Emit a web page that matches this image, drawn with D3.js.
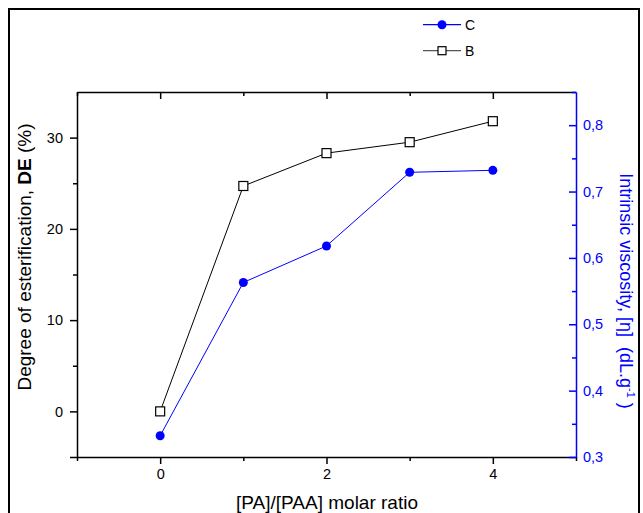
<!DOCTYPE html>
<html>
<head>
<meta charset="utf-8">
<title>DE and intrinsic viscosity</title>
<style>
  body { margin: 0; background: #fff; }
  text { font-family: Arial, "Liberation Sans", sans-serif; }
</style>
</head>
<body>
<div id="chart"></div>
<script src="https://cdn.jsdelivr.net/npm/d3@7"></script>
<script>
// data
var ratio = [0, 1, 2, 3, 4];
var deB = [0, 24.7, 28.3, 29.5, 31.8];           // left axis, DE (%)
var viscC = [0.332, 0.563, 0.618, 0.729, 0.732]; // right axis, [eta]
var xTicks = [-1, 0, 1, 2, 3, 4, 5];
var xLabels = [0, 2, 4];
var leftTicks = [-5, 0, 5, 10, 15, 20, 25, 30];
var leftLabels = [0, 10, 20, 30];
var rightTicks = [0.3, 0.35, 0.4, 0.45, 0.5, 0.55, 0.6, 0.65, 0.7, 0.75, 0.8, 0.85];
var rightLabels = [0.3, 0.4, 0.5, 0.6, 0.7, 0.8];

var W = 643, H = 513;
var blue = "#0000ff";
var svg = d3.select("#chart").append("svg").attr("width", W).attr("height", H);

// outer frame
svg.append("rect").attr("x", 9).attr("y", 9).attr("width", 630).attr("height", 530)
  .attr("fill", "none").attr("stroke", "#000").attr("stroke-width", 2);

var x = d3.scaleLinear().domain([-1, 5]).range([77, 576]);
var yL = d3.scaleLinear().domain([-5, 35]).range([457, 92]);
var yR = d3.scaleLinear().domain([0.3, 0.85]).range([457, 92]);

function isIn(arr, v) { return arr.some(function (a) { return Math.abs(a - v) < 1e-9; }); }
function styleAxis(g, color) {
  g.select(".domain").attr("stroke", color).attr("stroke-width", 1.5);
  g.selectAll(".tick line").attr("stroke", color).attr("stroke-width", 1.5);
  g.selectAll(".tick text").attr("fill", color).style("font-size", "14.5px")
    .style("font-family", "Arial, 'Liberation Sans', sans-serif");
}

// bottom axis
var gB = svg.append("g").attr("transform", "translate(0,457)")
  .call(d3.axisBottom(x).tickValues(xTicks).tickSizeOuter(0).tickPadding(6)
    .tickFormat(function (d) { return isIn(xLabels, d) ? d : ""; }));
styleAxis(gB, "#000");
gB.selectAll(".tick line").attr("y2", function (d) { return isIn(xLabels, d) ? 7 : 4; });

// top axis (ticks inward, no labels)
var gT = svg.append("g").attr("transform", "translate(0,92)")
  .call(d3.axisTop(x).tickValues(xTicks.slice(0, 6)).tickSizeOuter(0).tickFormat(""));
styleAxis(gT, "#000");
gT.selectAll(".tick line").attr("y2", function (d) { return isIn(xLabels, d) ? 7 : 4; });

// left axis
var gL = svg.append("g").attr("transform", "translate(77,0)")
  .call(d3.axisLeft(yL).tickValues(leftTicks).tickSizeOuter(0)
    .tickFormat(function (d) { return isIn(leftLabels, d) ? d : ""; }));
styleAxis(gL, "#000");
gL.selectAll(".tick line").attr("x2", function (d) { return isIn(leftLabels, d) || d === -5 ? -7 : -4; });
gL.selectAll(".tick text").attr("x", -14);

// right axis (blue, ticks inward)
var gR = svg.append("g").attr("transform", "translate(576,0)")
  .call(d3.axisRight(yR).tickValues(rightTicks).tickSizeOuter(0).tickSizeInner(-7).tickPadding(7)
    .tickFormat(function (d) { return isIn(rightLabels, d) ? d3.format(".1f")(d).replace(".", ",") : ""; }));
styleAxis(gR, blue);
gR.selectAll(".tick line").attr("x2", function (d) { return isIn(rightLabels, d) ? -7 : -4; });

// series B (black, squares, left axis)
var line = d3.line();
svg.append("path")
  .attr("d", line(ratio.map(function (r, i) { return [x(r), yL(deB[i])]; })))
  .attr("fill", "none").attr("stroke", "#000").attr("stroke-width", 1);
svg.selectAll(".sqB").data(ratio).enter().append("rect")
  .attr("x", function (r) { return x(r) - 4.5; })
  .attr("y", function (r, i) { return yL(deB[i]) - 4.5; })
  .attr("width", 9).attr("height", 9)
  .attr("fill", "#fff").attr("stroke", "#000").attr("stroke-width", 1.2);

// series C (blue, dots, right axis)
svg.append("path")
  .attr("d", line(ratio.map(function (r, i) { return [x(r), yR(viscC[i])]; })))
  .attr("fill", "none").attr("stroke", blue).attr("stroke-width", 1);
svg.selectAll(".dotC").data(ratio).enter().append("circle")
  .attr("cx", function (r) { return x(r); })
  .attr("cy", function (r, i) { return yR(viscC[i]); })
  .attr("r", 4.5).attr("fill", blue);

// axis titles
svg.append("text").attr("x", 327).attr("y", 509).attr("text-anchor", "middle")
  .style("font-size", "19px").text("[PA]/[PAA] molar ratio");

var lt = svg.append("text").attr("transform", "translate(31,257) rotate(-90)")
  .attr("text-anchor", "middle").style("font-size", "19px");
lt.append("tspan").text("Degree of esterification, ");
lt.append("tspan").attr("font-weight", "bold").text("DE");
lt.append("tspan").text(" (%)");

var rt = svg.append("text").attr("transform", "translate(620,291) rotate(90)")
  .attr("text-anchor", "middle").attr("fill", blue).style("font-size", "18px");
rt.append("tspan").text("Intrinsic viscosity, [\u03b7]\u00a0\u00a0(dL.g");
rt.append("tspan").attr("dy", -7).style("font-size", "11px").text("-1");
rt.append("tspan").attr("dy", 7).text("\u00a0)");

// legend
var leg = [
  { name: "C", lineColor: blue, y: 24.7, dot: true },
  { name: "B", lineColor: "#555", y: 50.7, dot: false }
];
leg.forEach(function (l) {
  svg.append("line").attr("x1", 423).attr("x2", 461).attr("y1", l.y).attr("y2", l.y)
    .attr("stroke", l.lineColor).attr("stroke-width", 1.2);
  if (l.dot) {
    svg.append("circle").attr("cx", 442).attr("cy", l.y).attr("r", 4.5).attr("fill", blue);
  } else {
    svg.append("rect").attr("x", 438).attr("y", l.y - 4).attr("width", 8).attr("height", 8)
      .attr("fill", "#fff").attr("stroke", "#000").attr("stroke-width", 1.2);
  }
  svg.append("text").attr("x", 465).attr("y", l.y + 5).style("font-size", "14px").text(l.name);
});
</script>
</body>
</html>
